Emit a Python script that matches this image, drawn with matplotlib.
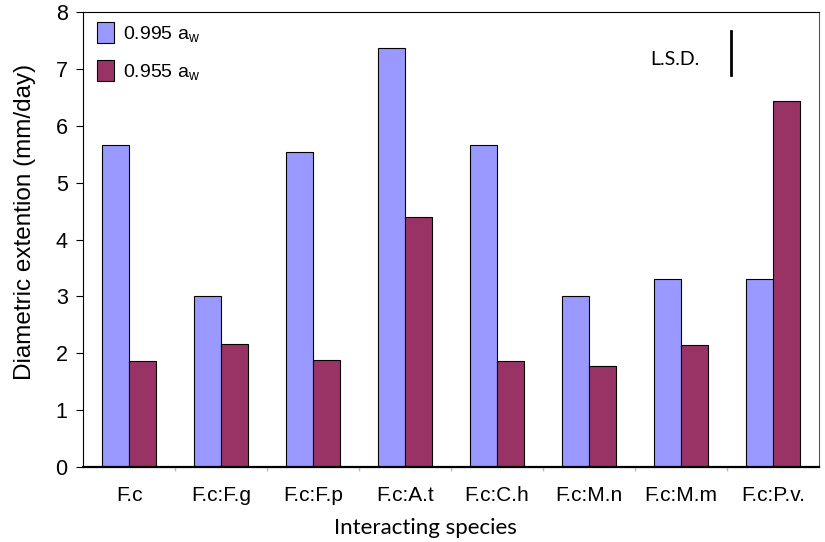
import matplotlib
matplotlib.use('Agg')
import matplotlib.pyplot as plt
from matplotlib.ticker import FixedLocator
import numpy as np

plt.rcParams['font.family'] = ['Liberation Sans', 'DejaVu Sans']
plt.rcParams['mathtext.fontset'] = 'custom'
plt.rcParams['mathtext.rm'] = 'Liberation Sans'
plt.rcParams['mathtext.it'] = 'Liberation Sans'

# data
species = ['F.c', 'F.c:F.g', 'F.c:F.p', 'F.c:A.t', 'F.c:C.h', 'F.c:M.n', 'F.c:M.m', 'F.c:P.v.']
aw_0995 = [5.66, 3.00, 5.53, 7.37, 5.67, 3.00, 3.30, 3.30]
aw_0955 = [1.86, 2.16, 1.89, 4.40, 1.86, 1.77, 2.14, 6.44]
series_labels = [r'0.995 a$_\mathregular{w}$', r'0.955 a$_\mathregular{w}$']
y_ticks = [0, 1, 2, 3, 4, 5, 6, 7, 8]
lsd_x = 6.54
lsd_range = [6.89, 7.67]

fig = plt.figure(figsize=(8.25, 5.42), dpi=100)
ax = fig.add_axes([83 / 825, 1 - 467 / 542, 736 / 825, 455 / 542])

x = np.arange(len(species))
w = 0.29
ax.bar(x - w / 2, aw_0995, w, color='#9999FF', edgecolor='black', linewidth=0.8,
       label=series_labels[0], zorder=2)
ax.bar(x + w / 2, aw_0955, w, color='#993366', edgecolor='black', linewidth=0.8,
       label=series_labels[1], zorder=2)

ax.set_xlim(-0.5, len(species) - 0.5)
ax.set_ylim(0, 8)
ax.set_yticks(y_ticks)
ax.set_yticklabels([str(t) for t in y_ticks], fontsize=15.5)
ax.tick_params(axis='y', direction='out', length=5, width=0.8, pad=6)

ax.set_xticks(x)
ax.set_xticklabels(species, fontsize=15)
ax.tick_params(axis='x', length=0, pad=14)
ax.xaxis.set_minor_locator(FixedLocator(np.arange(0.5, len(species) - 0.5, 1)))
ax.tick_params(axis='x', which='minor', direction='out', length=3, width=1, color='#bbbbbb')

for side in ['left', 'top', 'right']:
    ax.spines[side].set_linewidth(0.8)
ax.spines['right'].set_color('#555555')
ax.spines['bottom'].set_linewidth(1.6)

ax.set_ylabel('Diametric extention (mm/day)', fontsize=17.5)
ax.yaxis.set_label_coords(-0.064, 0.538)
fig.text(425 / 825, 1 - 528 / 542, 'Interacting species', family='Lato',
         fontsize=16, ha='center', va='center')

# L.S.D. bar
ax.plot([lsd_x, lsd_x], lsd_range, color='black', linewidth=2)
ax.text(5.93, 7.16, 'L.S.D.', family='Lato', fontsize=14, ha='center', va='center')

ax.legend(loc='upper left', bbox_to_anchor=(14 / 736, 1 - 10 / 455), frameon=False,
          fontsize=14, handlelength=0.88, handleheight=1.29, handletextpad=0.46,
          labelspacing=0.8, borderpad=0, borderaxespad=0)

fig.savefig('out.png', dpi=100)
